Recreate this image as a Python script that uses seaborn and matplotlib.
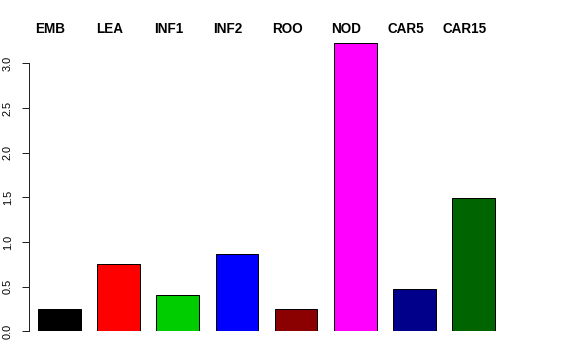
import matplotlib
matplotlib.use("Agg")
import matplotlib.pyplot as plt
import seaborn as sns
import pandas as pd

categories = ["EMB", "LEA", "INF1", "INF2", "ROO", "NOD", "CAR5", "CAR15"]
values = [0.253, 0.75, 0.41, 0.862, 0.25, 3.224, 0.473, 1.489]
colors = ["#000000", "#FF0000", "#00CD00", "#0000FF", "#8B0000", "#FF00FF", "#00008B", "#006400"]
yticks = [0.0, 0.5, 1.0, 1.5, 2.0, 2.5, 3.0]
ytick_labels = ["0.0", "0.5", "1.0", "1.5", "2.0", "2.5", "3.0"]

sns.set_style("white")
plt.rcParams["font.family"] = ["Liberation Sans", "DejaVu Sans"]
plt.rcParams["text.color"] = "black"
plt.rcParams["ytick.color"] = "black"

W, H = 576, 360
fig = plt.figure(figsize=(W / 72, H / 72), dpi=72)
left_px, right_px, bottom_px, top_px = 29, 513, 331.3, 33
ax = fig.add_axes([left_px / W, (H - bottom_px) / H, (right_px - left_px) / W, (bottom_px - top_px) / H])

df = pd.DataFrame({"cat": categories, "val": values})
sns.barplot(data=df, x="cat", y="val", hue="cat", palette=colors, order=categories,
            hue_order=categories, width=0.72, edgecolor="black", linewidth=1.0,
            legend=False, ax=ax, saturation=1)

ax.set_xlim(-0.513, 7.664)
ax.set_ylim(0, 3.339)
ax.set_xlabel("")
ax.set_ylabel("")
ax.set_xticks([])
for s in ["top", "right", "bottom"]:
    ax.spines[s].set_visible(False)
ax.spines["left"].set_bounds(0, 3.0)
ax.spines["left"].set_color("#222222")
ax.spines["left"].set_linewidth(1.0)
ax.set_yticks(yticks)
ax.set_yticklabels(ytick_labels, rotation=90, va="center", fontsize=11, color="black")
ax.tick_params(axis="y", length=7, width=1.0, color="#222222", pad=9, left=True)

for i, c in enumerate(categories):
    ax.text(i - 0.152, 1.014, c, transform=ax.get_xaxis_transform(),
            ha="center", va="center", fontsize=13.5, fontweight="bold", color="black")

fig.savefig("out.png", dpi=72, facecolor="white")
